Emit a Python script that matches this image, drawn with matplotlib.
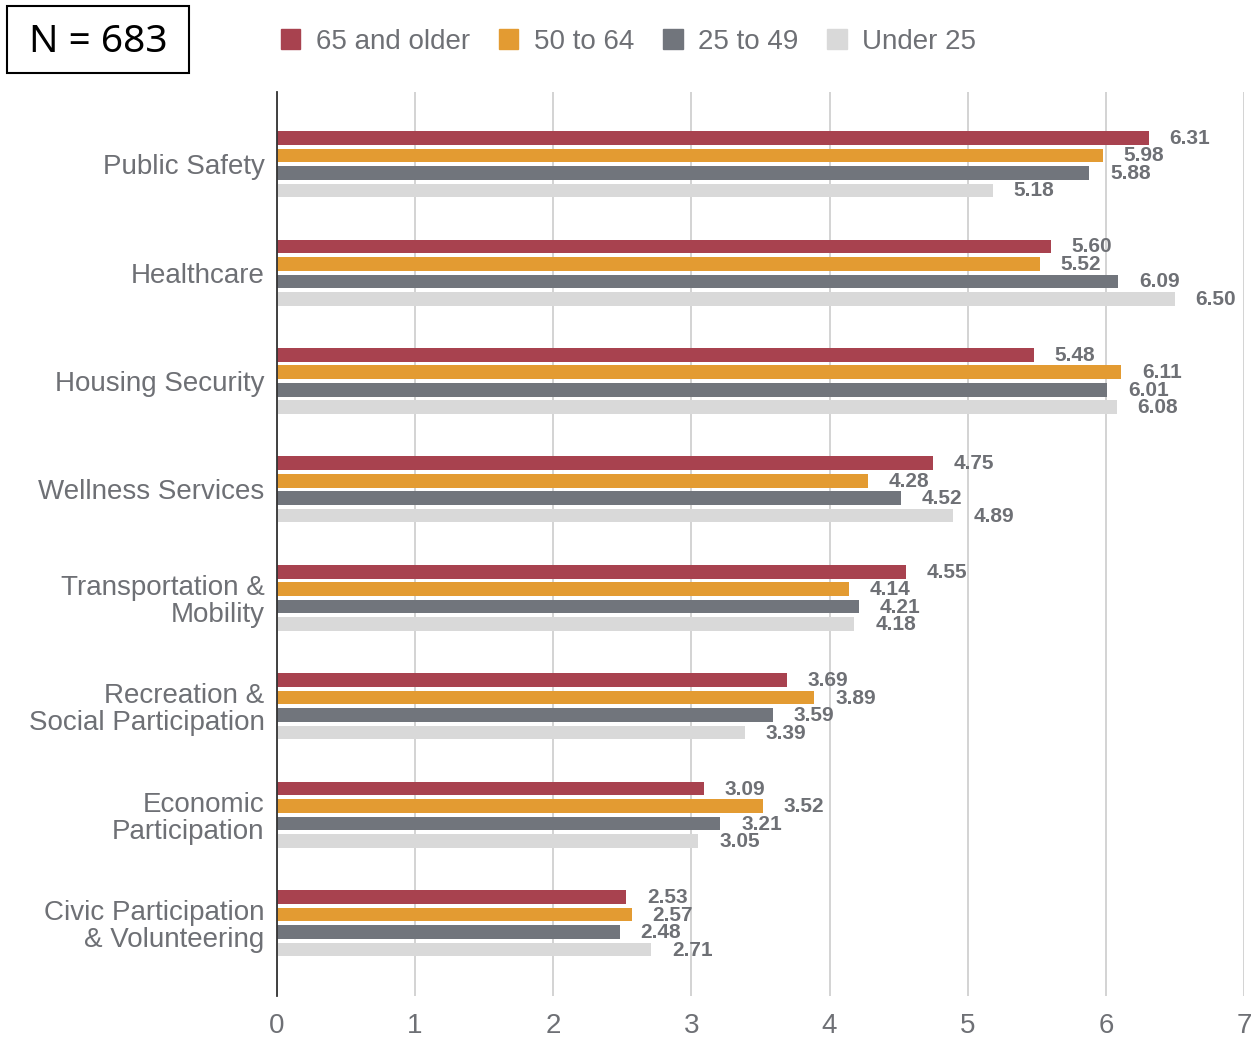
import numpy as np
import matplotlib.pyplot as plt
from matplotlib.patches import Rectangle, Patch

plt.rcParams['font.family'] = ['Liberation Sans', 'DejaVu Sans']

categories = ['Public Safety', 'Healthcare', 'Housing Security', 'Wellness Services',
              'Transportation &\nMobility', 'Recreation &\nSocial Participation',
              'Economic\nParticipation', 'Civic Participation\n& Volunteering']
series_names = ['65 and older', '50 to 64', '25 to 49', 'Under 25']
age_65_plus = [6.31, 5.60, 5.48, 4.75, 4.55, 3.69, 3.09, 2.53]
age_50_64 = [5.98, 5.52, 6.11, 4.28, 4.14, 3.89, 3.52, 2.57]
age_25_49 = [5.88, 6.09, 6.01, 4.52, 4.21, 3.59, 3.21, 2.48]
age_under_25 = [5.18, 6.50, 6.08, 4.89, 4.18, 3.39, 3.05, 2.71]
x_ticks = [0, 1, 2, 3, 4, 5, 6, 7]

colors = ['#a8424f', '#e39b32', '#71757c', '#d9d9d9']
text_gray = '#6e7075'

fig = plt.figure(figsize=(12.6, 10.38), dpi=100)
ax = fig.add_axes([0.2198, 0.0405, 0.7675, 0.8709])

y = np.arange(len(categories))
step = 0.161
bar_h = 0.125
all_series = [age_65_plus, age_50_64, age_25_49, age_under_25]
for i, (vals, col) in enumerate(zip(all_series, colors)):
    pos = y + (i - 1.5) * step
    ax.barh(pos, vals, height=bar_h, color=col, zorder=3)
    for p, v in zip(pos, vals):
        ax.text(v + 0.15, p + 0.005, f'{v:.2f}', va='center', ha='left',
                fontsize=15, fontweight='bold', color=text_gray, zorder=4)

ax.set_xlim(0, 7)
ax.set_ylim(7.67, -0.665)
ax.set_xticks(x_ticks)
ax.set_yticks(y)
ax.set_yticklabels(categories, fontsize=20, color=text_gray, linespacing=1.05)
ax.tick_params(axis='x', labelsize=20, labelcolor=text_gray, length=0, pad=12)
ax.tick_params(axis='y', length=0, pad=9)
ax.grid(axis='x', color='#cccccc', linewidth=1.2, zorder=0)
for s in ['top', 'right', 'bottom']:
    ax.spines[s].set_visible(False)
ax.spines['left'].set_color('#333333')
ax.spines['left'].set_linewidth(1.3)
ax.spines['left'].set_zorder(5)

handles = [Patch(facecolor=c, edgecolor=c) for c in colors]
leg = fig.legend(handles, series_names, loc='center left', ncol=4,
                 bbox_to_anchor=(0.2075, 0.960), frameon=False, fontsize=20,
                 handlelength=0.7, handleheight=0.7, handletextpad=0.55,
                 columnspacing=1.05, borderpad=0.2)
for t in leg.get_texts():
    t.set_color(text_gray)

# N box
fig.patches.append(Rectangle((7 / 1260, 1 - 73 / 1038), 182 / 1260, 67 / 1038,
                             transform=fig.transFigure, fill=False,
                             edgecolor='black', linewidth=1.5))
fig.text(98 / 1260, 1 - 42 / 1038, 'N = 683', ha='center', va='center',
         fontsize=28, color='black', family=['Noto Sans', 'DejaVu Sans'])

fig.savefig('out.png', dpi=100, facecolor='white')
